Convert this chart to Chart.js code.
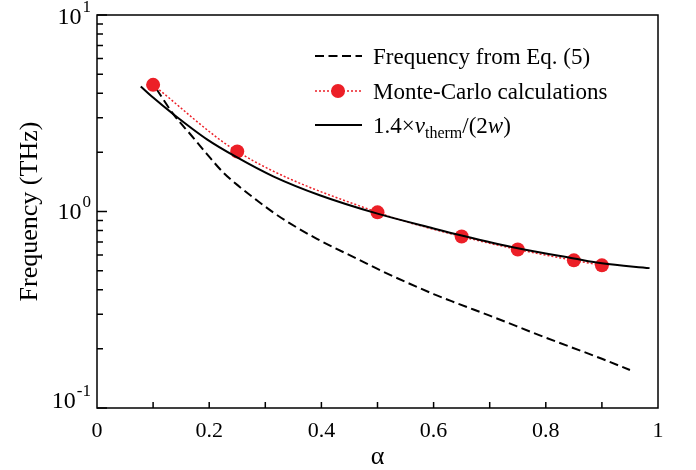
<!DOCTYPE html>
<html><head><meta charset="utf-8">
<script src="https://cdn.jsdelivr.net/npm/chart.js@4/dist/chart.umd.min.js"></script>
<style>html,body{margin:0;padding:0;background:#fff}</style>
</head><body>
<canvas id="c" width="696" height="470" style="display:block"></canvas>
<script>
// ---- data ----
const alphaEq5 = [0.106, 0.136, 0.166, 0.196, 0.225, 0.255, 0.285, 0.314, 0.344, 0.392, 0.48, 0.5, 0.6, 0.642, 0.7, 0.8, 0.9, 0.95];
const freqEq5  = [4.2, 3.13, 2.48, 1.96, 1.58, 1.33, 1.14, 0.99, 0.87, 0.726, 0.545, 0.51, 0.38, 0.341, 0.295, 0.228, 0.178, 0.156];
const alphaMC  = [0.1, 0.25, 0.5, 0.65, 0.75, 0.85, 0.9];
const freqMC   = [4.41, 2.02, 0.99, 0.746, 0.641, 0.564, 0.532];
const alphaFit = [0.078, 0.1, 0.136, 0.196, 0.249, 0.314, 0.397, 0.5, 0.6, 0.65, 0.75, 0.85, 0.9, 0.985];
const freqFit  = [4.33, 3.8, 3.13, 2.33, 1.89, 1.51, 1.21, 0.975, 0.82, 0.755, 0.65, 0.577, 0.545, 0.515];
const xTickValues = [0, 0.2, 0.4, 0.6, 0.8, 1];
const xTickLabels = ['0', '0.2', '0.4', '0.6', '0.8', '1'];
const yDecades = [-1, 0, 1];
const legendLabels = ['Frequency from Eq. (5)', 'Monte-Carlo calculations'];

const FONT = '"Liberation Serif", "Times New Roman", serif';
const RED = '#ec1f27';
const pts = (xs, ys) => xs.map((x, i) => ({x: x, y: ys[i]}));

const framePlugin = {
  id: 'frame',
  afterDraw(chart) {
    const ctx = chart.ctx;
    const a = chart.chartArea;
    const xs = chart.scales.x, ys = chart.scales.y;
    ctx.save();
    ctx.strokeStyle = '#000';
    ctx.lineWidth = 1.5;
    ctx.setLineDash([]);
    ctx.strokeRect(a.left, a.top, a.right - a.left, a.bottom - a.top);
    // x inward ticks every 0.1
    ctx.beginPath();
    for (let i = 1; i < 10; i++) {
      const px = xs.getPixelForValue(i / 10);
      ctx.moveTo(px, a.bottom); ctx.lineTo(px, a.bottom - 6);
    }
    // y inward ticks (log)
    for (const e of yDecades) {
      const py = ys.getPixelForValue(Math.pow(10, e));
      ctx.moveTo(a.left, py); ctx.lineTo(a.left + 10, py);
      if (e < 1) {
        for (let m = 2; m <= 9; m++) {
          const pm = ys.getPixelForValue(m * Math.pow(10, e));
          ctx.moveTo(a.left, pm); ctx.lineTo(a.left + 6, pm);
        }
      }
    }
    ctx.stroke();
    // y tick labels 10^e
    ctx.fillStyle = '#000';
    ctx.textBaseline = 'middle';
    const offs = {'-1': -6, '0': 1, '1': 3};
    for (const e of yDecades) {
      const py = ys.getPixelForValue(Math.pow(10, e)) + offs[String(e)];
      const sup = String(e);
      ctx.font = '17px ' + FONT;
      const sw = ctx.measureText(sup).width;
      ctx.font = '24px ' + FONT;
      const bw = ctx.measureText('10').width;
      const right = 91;
      ctx.textAlign = 'left';
      ctx.fillText('10', right - sw - 1 - bw, py);
      ctx.font = '17px ' + FONT;
      ctx.fillText(sup, right - sw, py - 10);
    }
    // legend
    const lx0 = 315, lx1 = 362, tx = 373;
    const rows = [56, 91, 125];
    ctx.lineWidth = 2;
    ctx.strokeStyle = '#000';
    ctx.setLineDash([9, 4.5]);
    ctx.beginPath(); ctx.moveTo(lx0, rows[0]); ctx.lineTo(lx1, rows[0]); ctx.stroke();
    ctx.setLineDash([2, 2]);
    ctx.lineWidth = 1.5;
    ctx.strokeStyle = RED;
    ctx.beginPath(); ctx.moveTo(lx0, rows[1]); ctx.lineTo(lx1, rows[1]); ctx.stroke();
    ctx.setLineDash([]);
    ctx.fillStyle = RED;
    ctx.beginPath(); ctx.arc(338, rows[1], 7, 0, Math.PI * 2); ctx.fill();
    ctx.lineWidth = 2;
    ctx.strokeStyle = '#000';
    ctx.beginPath(); ctx.moveTo(lx0, rows[2]); ctx.lineTo(lx1, rows[2]); ctx.stroke();
    ctx.fillStyle = '#000';
    ctx.textAlign = 'left';
    ctx.textBaseline = 'alphabetic';
    ctx.font = '23px ' + FONT;
    ctx.fillText(legendLabels[0], tx, rows[0] + 8);
    ctx.fillText(legendLabels[1], tx, rows[1] + 8);
    const parts = [
      ['1.4\u00d7', '23px ' + FONT, 0],
      ['v', 'italic 23px ' + FONT, 0],
      ['therm', '16px ' + FONT, 5],
      ['/(2', '23px ' + FONT, 0],
      ['w', 'italic 23px ' + FONT, 0],
      [')', '23px ' + FONT, 0]
    ];
    let x = tx;
    for (const [t, f, dy] of parts) {
      ctx.font = f;
      ctx.fillText(t, x, rows[2] + 8 + dy);
      x += ctx.measureText(t).width;
    }
    ctx.restore();
  }
};

new Chart(document.getElementById('c').getContext('2d'), {
  type: 'scatter',
  data: {
    datasets: [
      {label: 'Frequency from Eq. (5)', data: pts(alphaEq5, freqEq5), showLine: true, order: 2,
       borderColor: '#000', borderWidth: 2, borderDash: [9, 4.5], pointRadius: 0, cubicInterpolationMode: 'monotone'},
      {label: 'Monte-Carlo calculations', data: pts(alphaMC, freqMC), showLine: true, order: 1,
       borderColor: RED, borderWidth: 1.5, borderDash: [2, 2], pointRadius: 7, pointBorderWidth: 0,
       pointBackgroundColor: RED, cubicInterpolationMode: 'monotone'},
      {label: '1.4×v_therm/(2w)', data: pts(alphaFit, freqFit), showLine: true, order: 0,
       borderColor: '#000', borderWidth: 2, pointRadius: 0, cubicInterpolationMode: 'monotone'}
    ]
  },
  options: {
    responsive: false, animation: false, devicePixelRatio: 1,
    layout: {padding: {top: 15, right: 38, left: 0, bottom: 0}},
    plugins: {legend: {display: false}, tooltip: {enabled: false}},
    scales: {
      x: {
        type: 'linear', min: 0, max: 1,
        grid: {display: false}, border: {display: false},
        afterBuildTicks: s => { s.ticks = xTickValues.map(v => ({value: v})); },
        ticks: {padding: 2, color: '#000', font: {family: FONT, size: 22}, maxRotation: 0,
                callback: (v) => xTickLabels[xTickValues.indexOf(v)] ?? ''},
        title: {display: true, text: 'α', color: '#000', font: {family: FONT, size: 26}, padding: {top: 0, bottom: -3}},
        afterFit: s => { s.height = 62; }
      },
      y: {
        type: 'logarithmic', min: 0.1, max: 10,
        grid: {display: false}, border: {display: false},
        ticks: {display: false},
        title: {display: true, text: 'Frequency (THz)', color: '#000', font: {family: FONT, size: 26}, padding: {top: 15, bottom: 0}},
        afterFit: s => { s.width = 97; }
      }
    }
  },
  plugins: [framePlugin]
});
</script>
</body></html>
